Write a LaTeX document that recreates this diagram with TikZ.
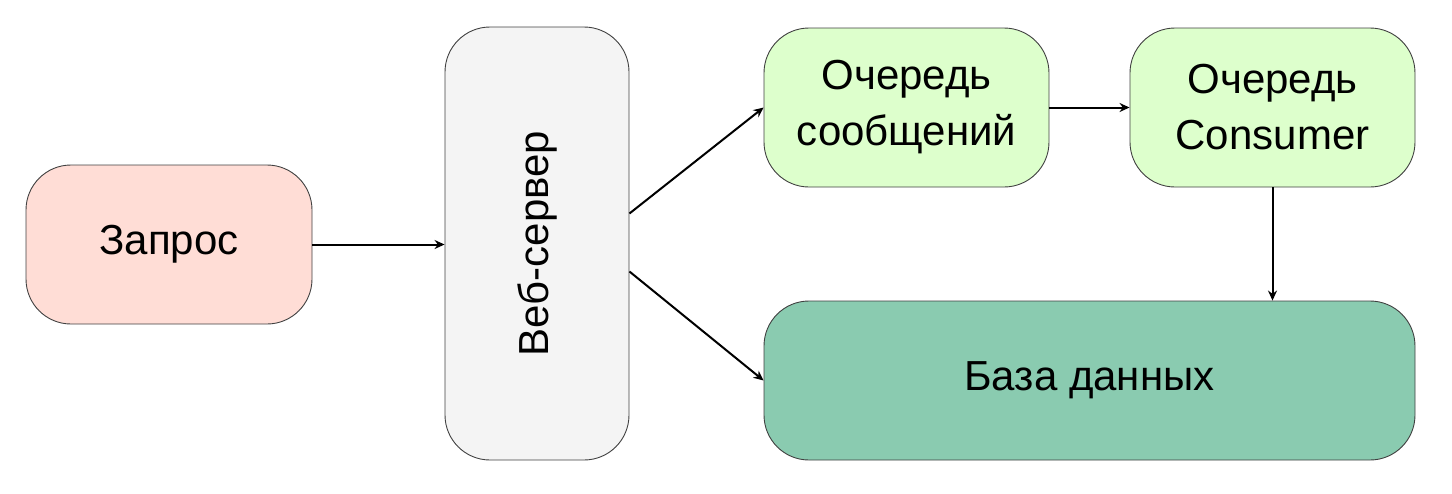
\documentclass[tikz,border=0pt]{standalone}
\usepackage{fontspec}
\setmainfont{Liberation Sans}
\usetikzlibrary{arrows.meta}
\definecolor{reqpink}{HTML}{FFDDD6}
\definecolor{srvgray}{HTML}{F4F4F4}
\definecolor{queuegreen}{HTML}{DDFFCC}
\definecolor{dbgreen}{HTML}{8ACBB0}
\tikzset{block/.style={draw=black!75, line width=0.9pt, rounded corners=45pt, align=center, font=\fontsize{42}{56}\selectfont}}
\tikzset{flow/.style={-{Stealth[length=10pt, width=9pt]}, line width=2pt}}

\begin{document}
\begin{tikzpicture}[x=1pt, y=-1pt]
\useasboundingbox (0,0) rectangle (1452,493);
\node[block, fill=reqpink, minimum width=286pt, minimum height=159pt] (zapros) at (169,244.5) {Запрос};
\node[block, fill=srvgray, minimum width=184pt, minimum height=433pt] (web) at (537,243.5) {\rotatebox{90}{Веб-сервер}};
\node[block, fill=queuegreen, minimum width=285pt, minimum height=159pt] (queue) at (906.5,107.5) {Очередь\\сообщений};
\node[block, fill=queuegreen, minimum width=285pt, minimum height=159pt] (consumer) at (1272.5,107.5) {Очередь\\Consumer};
\node[block, fill=dbgreen, minimum width=651pt, minimum height=159pt] (db) at (1089.5,380.5) {База данных};
% connectors
\draw[flow] (zapros.east) -- (zapros.east -| web.west);
\draw[flow] ([yshift=30pt]web.east) -- (queue.west);
\draw[flow] ([yshift=-28pt]web.east) -- (db.west);
\draw[flow] (queue.east) -- (consumer.west);
\draw[flow] (consumer.south) -- (consumer.south |- db.north);
\end{tikzpicture}
\end{document}
